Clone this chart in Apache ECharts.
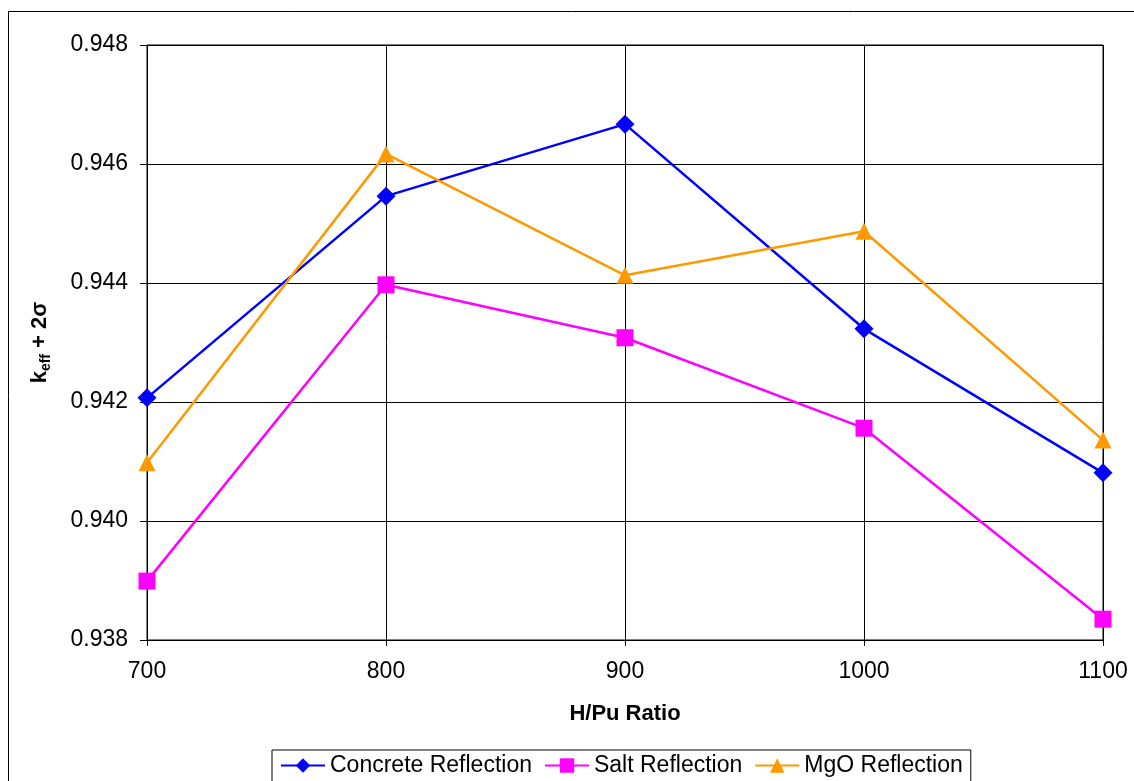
<!DOCTYPE html>
<html><head><meta charset="utf-8">
<script src="https://cdn.jsdelivr.net/npm/echarts@6/dist/echarts.min.js"></script>
<style>html,body{margin:0;padding:0;background:#fff}#c{width:1134px;height:781px}</style>
</head><body><div id="c"></div>
<script>
const hpuRatios = [700, 800, 900, 1000, 1100];
const concrete = [0.94207, 0.94546, 0.94667, 0.94323, 0.94081];
const salt = [0.93899, 0.94397, 0.94308, 0.94156, 0.93835];
const mgo = [0.94098, 0.94617, 0.94413, 0.94487, 0.94136];
const yTicks = [0.938, 0.940, 0.942, 0.944, 0.946, 0.948];

const pairs = arr => hpuRatios.map((x, i) => [x, arr[i]]);
const chart = echarts.init(document.getElementById('c'), null, {renderer: 'canvas'});
const font = 'Liberation Sans, Arial, sans-serif';
chart.setOption({
  animation: false,
  textStyle: {fontFamily: font},
  graphic: [{type: 'rect', shape: {x: 8.5, y: 11.5, width: 1140, height: 800}, style: {fill: 'none', stroke: '#000', lineWidth: 1}, z: -1}],
  grid: {left: 147, top: 45, right: 31, bottom: 141, show: true, borderColor: '#000', borderWidth: 1},
  legend: {
    bottom: -8, left: 272,
    data: ['Concrete Reflection', 'Salt Reflection', 'MgO Reflection'],
    borderColor: '#000', borderWidth: 1, padding: [4, 8, 12, 8], itemGap: 12,
    itemWidth: 44, itemHeight: 18,
    textStyle: {fontFamily: font, fontSize: 23, color: '#000'}
  },
  xAxis: {
    type: 'value', min: 700, max: 1100, interval: 100,
    name: 'H/Pu Ratio', nameLocation: 'middle', nameGap: 63,
    nameTextStyle: {fontFamily: font, fontSize: 22, fontWeight: 'bold', color: '#000'},
    axisLine: {lineStyle: {color: '#000', width: 1}},
    axisTick: {show: true, length: 6, lineStyle: {color: '#000'}},
    axisLabel: {fontFamily: font, fontSize: 23, color: '#000', margin: 20, formatter: v => String(v)},
    splitLine: {show: true, lineStyle: {color: '#000', width: 1}}
  },
  yAxis: {
    type: 'value', min: yTicks[0], max: yTicks[yTicks.length - 1], interval: 0.002,
    name: '{k|k}{s|eff}{k| + 2σ}', nameLocation: 'middle', nameGap: 94,
    nameTextStyle: {rich: {k: {fontFamily: font, fontSize: 22, fontWeight: 'bold', color: '#000'}, s: {fontFamily: font, fontSize: 14, fontWeight: 'bold', color: '#000', verticalAlign: 'bottom', padding: [12, 0, 0, 0]}}},
    axisLine: {show: true, lineStyle: {color: '#000', width: 1}},
    axisTick: {show: true, length: 7, lineStyle: {color: '#000'}},
    axisLabel: {fontFamily: font, fontSize: 23, color: '#000', margin: 19, formatter: v => v.toFixed(3)},
    splitLine: {show: true, lineStyle: {color: '#000', width: 1}}
  },
  series: [
    {name: 'Concrete Reflection', type: 'line', data: pairs(concrete), symbol: 'diamond', symbolSize: 19,
     itemStyle: {color: '#0000FF'}, lineStyle: {color: '#0000FF', width: 2.5}},
    {name: 'Salt Reflection', type: 'line', data: pairs(salt), symbol: 'rect', symbolSize: 17,
     itemStyle: {color: '#FF00FF'}, lineStyle: {color: '#FF00FF', width: 2.5}},
    {name: 'MgO Reflection', type: 'line', data: pairs(mgo), symbol: 'triangle', symbolSize: 17,
     itemStyle: {color: '#FF9900'}, lineStyle: {color: '#FF9900', width: 2.5}}
  ]
});
</script></body></html>
